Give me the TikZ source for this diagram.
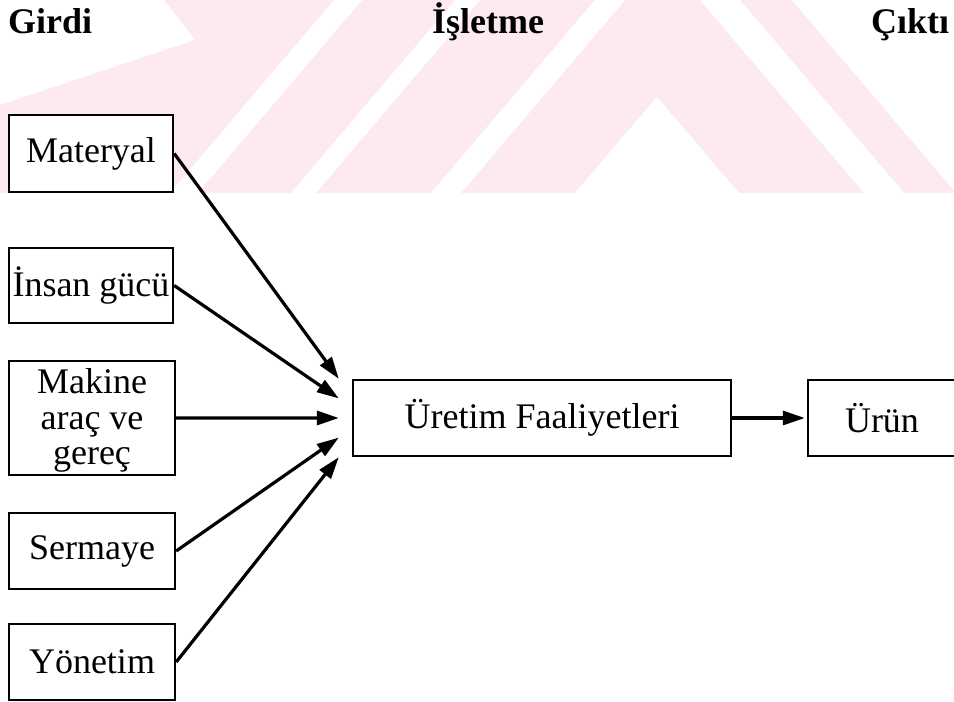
\documentclass[tikz,border=0pt]{standalone}
\usepackage{fontspec}
\setmainfont{Liberation Serif}
\usetikzlibrary{arrows.meta,calc}
\definecolor{wmpink}{RGB}{253,234,240}
\tikzset{
  box/.style={draw=black, fill=white, line width=2.4pt, inner sep=0pt, align=center,
    font=\fontsize{36}{35.5}\selectfont},
  head/.style={font=\bfseries\fontsize{36}{40}\selectfont, anchor=base west, inner sep=0pt},
  flow/.style={line width=3.2pt, -{Triangle[length=22pt,width=14pt]}},
  wmgap/.style={fill=white, draw=none}
}
\begin{document}
\begin{tikzpicture}[x=1pt,y=-1pt]
\useasboundingbox (0,0) rectangle (954,702);
\clip (0,0) rectangle (954,702);

% faint background mark behind the upper band
\begin{scope}
  \clip (0,0) rectangle (954,193);
  \fill[wmpink] (0,0) rectangle (954,193);
  \fill[wmgap] (0,0) -- (164,0) -- (195,40) -- (0,105) -- cycle;
  \fill[wmgap] (334,0) -- (362,0) -- (198,193) -- (170,193) -- cycle;
  \fill[wmgap] (455,0) -- (480,0) -- (316,193) -- (291,193) -- cycle;
  \fill[wmgap] (595,0) -- (625,0) -- (461,193) -- (431,193) -- cycle;
  \fill[wmgap] (657,97) -- (745,200) -- (569,200) -- cycle;
  \fill[wmgap] (700,0) -- (740,0) -- (904,193) -- (864,193) -- cycle;
  \fill[wmgap] (792,0) -- (960,0) -- (960,193) -- (956,193) -- cycle;
\end{scope}

% column headings
\node[head] (hin)  at (8,33)   {Girdi};
\node[head] (hmid) at (432,33) {İşletme};
\node[head] (hout) at (871,33) {Çıktı};

% inputs
\node[box, minimum width=164pt, minimum height=77pt]  (mat) at (91,153.5) {Materyal};
\node[box, minimum width=164pt, minimum height=75pt]  (ins) at (91,285.5) {İnsan gücü};
\node[box, minimum width=166pt, minimum height=114pt, text depth=2pt] (mak) at (92,418) {Makine\\araç ve\\gereç};
\node[box, minimum width=166pt, minimum height=76pt]  (ser) at (92,551)   {Sermaye};
\node[box, minimum width=166pt, minimum height=76pt]  (yon) at (92,662)   {Yönetim};

% process and output
\node[box, minimum width=378pt, minimum height=76pt] (ure)  at (542,418) {Üretim Faaliyetleri};
\node[box, minimum width=148pt, minimum height=76pt] (urun) at (882,418) {Ürün};

% arrow targets spread along the left side of the process box
\coordinate (t1) at ([xshift=-13pt]ure.north west);
\coordinate (t5) at ([xshift=-13pt]ure.south west);
\coordinate (t2) at ($(t1)!0.25!(t5)$);
\coordinate (t3) at ($(t1)!0.5!(t5)$);
\coordinate (t4) at ($(t1)!0.75!(t5)$);

\draw[flow] (mat.east) -- (t1);
\draw[flow] (ins.east) -- (t2);
\draw[flow] (mak.east) -- (t3);
\draw[flow] (ser.east) -- (t4);
\draw[flow] (yon.east) -- (t5);
\draw[flow, shorten >=2pt] (ure.east) -- (urun.west);
\end{tikzpicture}
\end{document}
